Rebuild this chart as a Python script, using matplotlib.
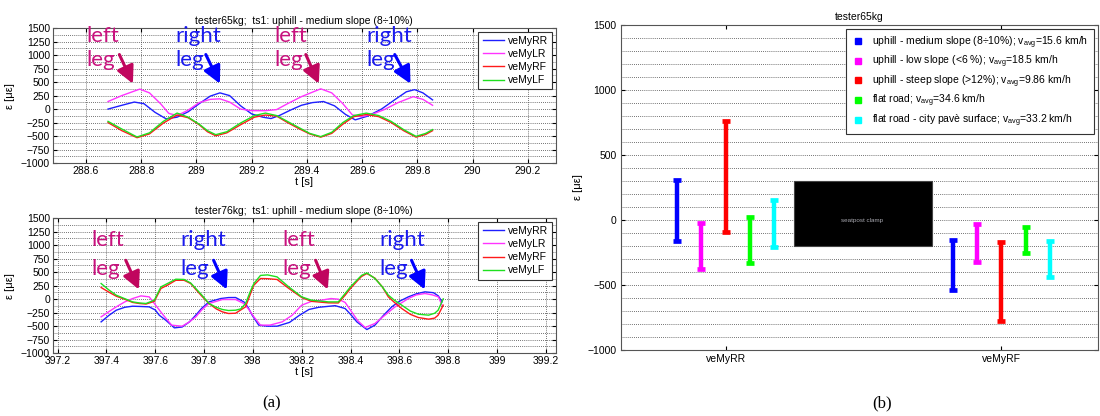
import matplotlib
matplotlib.use('Agg')
import matplotlib.pyplot as plt
from matplotlib.ticker import MultipleLocator, FuncFormatter
from matplotlib.patches import Rectangle
from matplotlib.lines import Line2D

plt.rcParams['font.family'] = ['Liberation Sans', 'DejaVu Sans']
plt.rcParams['mathtext.default'] = 'regular'

# ---- (a) top: tester65kg time histories ----
t65_rr = [288.68, 288.73, 288.775, 288.81, 288.85, 288.89, 288.93, 288.97, 289.01, 289.05, 289.085, 289.12,
          289.16, 289.20, 289.24, 289.27, 289.30, 289.34, 289.38, 289.42, 289.46, 289.50, 289.54, 289.575,
          289.62, 289.67, 289.72, 289.76, 289.79, 289.82, 289.855]
v65_rr = [0, 70, 130, 100, -60, -180, -150, -50, 100, 240, 300, 250,
          60, -90, -150, -175, -120, -20, 70, 120, 140, 60, -100, -200,
          -130, 0, 180, 320, 360, 300, 170]
t65_lr = [288.68, 288.73, 288.795, 288.83, 288.87, 288.90, 288.93, 288.97, 289.01, 289.05, 289.085, 289.12,
          289.16, 289.20, 289.25, 289.29, 289.33, 289.38, 289.45, 289.49, 289.53, 289.565, 289.60, 289.64,
          289.68, 289.73, 289.785, 289.82, 289.855]
v65_lr = [140, 250, 370, 300, 100, -80, -120, -20, 120, 180, 190, 130,
          0, -30, -30, -10, 100, 230, 375, 300, 100, -110, -140, -90,
          -10, 120, 230, 180, 70]
t65_front = [288.68, 288.73, 288.785, 288.83, 288.88, 288.93, 288.97, 289.01, 289.04, 289.07, 289.11, 289.16,
             289.21, 289.25, 289.29, 289.33, 289.37, 289.41, 289.45, 289.49, 289.53, 289.57, 289.615, 289.66,
             289.705, 289.75, 289.795, 289.83, 289.855]
v65_rf = [-250, -400, -530, -460, -260, -110, -160, -290, -420, -495, -440, -290,
          -150, -110, -130, -250, -360, -460, -520, -450, -280, -140, -100, -140,
          -250, -400, -520, -470, -400]
v65_lf = [-228, -370, -517, -440, -228, -74, -150, -280, -400, -474, -420, -258,
          -120, -74, -120, -230, -340, -450, -510, -430, -250, -120, -75, -120,
          -228, -380, -505, -450, -380]

# ---- (a) bottom: tester76kg time histories ----
t76_rr = [397.378, 397.41, 397.44, 397.475, 397.507, 397.54, 397.575, 397.60, 397.616, 397.643, 397.678,
          397.71, 397.74, 397.766, 397.79, 397.82, 397.868, 397.90, 397.929, 397.963, 397.98, 397.997,
          398.024, 398.06, 398.099, 398.15, 398.19, 398.23, 398.27, 398.337, 398.378, 398.40, 398.426,
          398.467, 398.50, 398.535, 398.569, 398.60, 398.637, 398.67, 398.705, 398.74, 398.76, 398.775]
v76_rr = [-420, -300, -204, -150, -130, -135, -142, -200, -296, -389, -531,
          -515, -420, -296, -170, -50, 12, 30, 31, -50, -150, -296,
          -481, -500, -500, -430, -300, -190, -150, -120, -173, -280, -420,
          -562, -481, -300, -142, -40, 43, 100, 136, 120, 60, -50]
t76_lr = [397.378, 397.41, 397.44, 397.475, 397.507, 397.541, 397.575, 397.596, 397.633, 397.667, 397.71,
          397.74, 397.766, 397.79, 397.82, 397.875, 397.929, 397.963, 397.985, 398.004, 398.031, 398.07,
          398.12, 398.16, 398.20, 398.24, 398.28, 398.32, 398.35, 398.378, 398.40, 398.43, 398.46,
          398.50, 398.54, 398.58, 398.637, 398.67, 398.705, 398.735, 398.76, 398.775]
v76_lr = [-327, -230, -142, -50, 12, 61, 43, -80, -296, -481, -500,
          -420, -327, -200, -80, -6, -6, -80, -200, -327, -481, -480,
          -420, -300, -111, -40, -19, 12, 0, -60, -204, -400, -525,
          -450, -300, -150, 12, 80, 105, 80, 43, -111]
t76_front = [397.378, 397.41, 397.44, 397.48, 397.507, 397.535, 397.562, 397.596, 397.623, 397.65, 397.684,
             397.718, 397.745, 397.766, 397.79, 397.82, 397.85, 397.875, 397.90, 397.929, 397.95, 397.97,
             397.99, 398.004, 398.031, 398.06, 398.099, 398.147, 398.20, 398.24, 398.31, 398.35, 398.378,
             398.40, 398.426, 398.445, 398.467, 398.50, 398.53, 398.555, 398.58, 398.61, 398.645, 398.678,
             398.72, 398.745, 398.759, 398.78]
v76_rf = [216, 130, 55, -10, -60, -80, -90, -40, 198, 260, 350,
          350, 290, 180, 60, -80, -180, -235, -265, -260, -200, -142,
          100, 260, 383, 380, 365, 200, 31, -40, -68, -70, 74,
          200, 330, 420, 475, 390, 230, 43, -60, -173, -280, -340,
          -370, -350, -296, -111]
v76_lf = [290, 170, 74, 0, -50, -70, -80, -19, 228, 290, 370,
          365, 300, 198, 80, -80, -150, -191, -210, -204, -180, -80,
          150, 290, 440, 450, 413, 228, 43, -19, -50, -50, 105,
          230, 352, 440, 487, 383, 230, 74, -20, -111, -220, -278,
          -296, -260, -204, 6]

series_names = ['veMyRR', 'veMyLR', 'veMyRF', 'veMyLF']
line_colors = ['#1f1fff', '#ff33ff', '#ff1a1a', '#1fe01f']

# leg annotations: (word, text t, arrow tail t, arrow tip t)
notes65 = [('left', 288.60, 288.721, 288.770), ('right', 288.922, 289.034, 289.085),
           ('left', 289.283, 289.396, 289.443), ('right', 289.615, 289.718, 289.775)]
notes76 = [('left', 397.339, 397.479, 397.533), ('right', 397.704, 397.839, 397.893),
           ('left', 398.119, 398.257, 398.307), ('right', 398.517, 398.650, 398.704)]

# ---- (b) strain ranges ----
channels = ['veMyRR', 'veMyRF']
conditions = ['uphill - medium slope (8÷10%); v$_{avg}$=15.6 km/h',
              'uphill - low slope (<6 %); v$_{avg}$=18.5 km/h',
              'uphill - steep slope (>12%); v$_{avg}$=9.86 km/h',
              'flat road; v$_{avg}$=34.6 km/h',
              'flat road - city pavè surface; v$_{avg}$=33.2 km/h']
cond_colors = ['#0000ff', '#ff00ff', '#ff0000', '#00ff00', '#00ffff']
max_rr = [310, -20, 760, 25, 155]
min_rr = [-165, -375, -90, -330, -205]
max_rf = [-155, -30, -170, -55, -160]
min_rf = [-535, -320, -775, -255, -440]

fig = plt.figure(figsize=(11, 4.16), dpi=100)

text_colors = {'left': '#c8127e', 'right': '#1a1aee'}
arrow_colors = {'left': '#c0065e', 'right': '#0000ff'}


def time_panel(rect, title, xlim, xticks, data, notes, yl, yb, tip):
    ax = fig.add_axes(rect)
    for (t, v), name, c in zip(data, series_names, line_colors):
        ax.plot(t, v, color=c, lw=1.0, label=name)
    ax.set_xlim(*xlim)
    ax.set_ylim(-1000, 1500)
    ax.set_xticks(xticks)
    ax.xaxis.set_major_formatter(FuncFormatter(lambda x, p: '%g' % round(x, 1)))
    ax.yaxis.set_major_locator(MultipleLocator(250))
    ax.yaxis.set_minor_locator(MultipleLocator(125))
    ax.grid(which='major', axis='both', color='#444444', ls=(0, (1, 1.5)), lw=0.6)
    ax.grid(which='minor', axis='y', color='#444444', ls=(0, (1, 1.5)), lw=0.6)
    ax.tick_params(which='both', direction='in', top=True, right=True, labelsize=7.5, length=3, pad=2)
    ax.tick_params(which='minor', length=0)
    for s in ax.spines.values():
        s.set_color('#555555')
    ax.set_title(title, fontsize=7.5, pad=3)
    ax.set_xlabel('t [s]', fontsize=8, labelpad=1)
    ax.set_ylabel('ε [με]', fontsize=8)
    ax.yaxis.set_label_coords(-0.076, 0.5)
    leg = ax.legend(loc='upper right', fontsize=7.5, frameon=True, fancybox=False, framealpha=1,
                    edgecolor='#333333', borderaxespad=0.35, labelspacing=0.3, handlelength=2.1,
                    handletextpad=0.3, borderpad=0.4)
    leg.get_frame().set_linewidth(0.8)
    for word, tx, ta, tb in notes:
        ax.text(tx, yl, word, color=text_colors[word], fontsize=16, family='Lato', va='baseline')
        ax.text(tx, yb, 'leg', color=text_colors[word], fontsize=16, family='Lato', va='baseline')
        ax.annotate('', xy=(tb, tip), xytext=(ta, tip + 540),
                    arrowprops=dict(arrowstyle='-|>,head_length=0.75,head_width=0.38', lw=2.2,
                                    color=arrow_colors[word], mutation_scale=14, shrinkA=0, shrinkB=0))
    return ax


time_panel([0.048, 0.608, 0.457, 0.3245], 'tester65kg;  ts1: uphill - medium slope (8÷10%)',
           (288.48, 290.30), [288.6, 288.8, 289, 289.2, 289.4, 289.6, 289.8, 290, 290.2],
           [(t65_rr, v65_rr), (t65_lr, v65_lr), (t65_front, v65_rf), (t65_front, v65_lf)],
           notes65, 1240, 790, 470)
time_panel([0.048, 0.151, 0.457, 0.3245], 'tester76kg;  ts1: uphill - medium slope (8÷10%)',
           (397.18, 399.24), [397.2, 397.4, 397.6, 397.8, 398, 398.2, 398.4, 398.6, 398.8, 399, 399.2],
           [(t76_rr, v76_rr), (t76_lr, v76_lr), (t76_front, v76_rf), (t76_front, v76_lf)],
           notes76, 980, 450, 180)

# ---- (b) ----
axb = fig.add_axes([0.5645, 0.1587, 0.4336, 0.781])
step = 0.088
for ci, (mx, mn) in enumerate([(max_rr, min_rr), (max_rf, min_rf)]):
    for k in range(len(conditions)):
        x = ci + 1 + (k - 2) * step
        mid = (mx[k] + mn[k]) / 2
        axb.errorbar(x, mid, yerr=(mx[k] - mn[k]) / 2, fmt='none', ecolor=cond_colors[k],
                     elinewidth=3.2, capsize=2.6, capthick=3.4)
axb.add_patch(Rectangle((1.246, -200), 0.504, 500, facecolor='black', edgecolor='#444444', lw=0.8, zorder=5))
axb.text(1.496, -5, 'seatpost clamp', color='#a8a8b0', fontsize=4.5, ha='center', va='center', zorder=6)
axb.set_xlim(0.62, 2.35)
axb.set_ylim(-1000, 1500)
axb.set_xticks([1, 2])
axb.set_xticklabels(channels)
axb.yaxis.set_major_locator(MultipleLocator(500))
axb.yaxis.set_minor_locator(MultipleLocator(100))
axb.grid(which='both', axis='y', color='#444444', ls=(0, (1, 1.5)), lw=0.6)
axb.tick_params(which='both', direction='in', top=True, right=True, labelsize=7.5, length=3, pad=3)
axb.tick_params(which='minor', length=0)
for s in axb.spines.values():
    s.set_color('#555555')
axb.set_title('tester65kg', fontsize=7.5, pad=4)
axb.set_ylabel('ε [με]', fontsize=8)
axb.yaxis.set_label_coords(-0.08, 0.5)
handles = [Line2D([], [], marker='s', ls='none', color=c, markersize=5) for c in cond_colors]
lb = axb.legend(handles, conditions, loc='upper right', fontsize=7.5, frameon=True, fancybox=False,
                framealpha=1, edgecolor='#333333', borderaxespad=0.4, labelspacing=0.3,
                handlelength=1.2, handletextpad=0.8, borderpad=0.5)
lb.get_frame().set_linewidth(0.8)

fig.text(0.247, 0.031, '(a)', family='Liberation Serif', fontsize=12, ha='center', va='center')
fig.text(0.802, 0.031, '(b)', family='Liberation Serif', fontsize=12, ha='center', va='center')

fig.savefig('out.png', dpi=100)
